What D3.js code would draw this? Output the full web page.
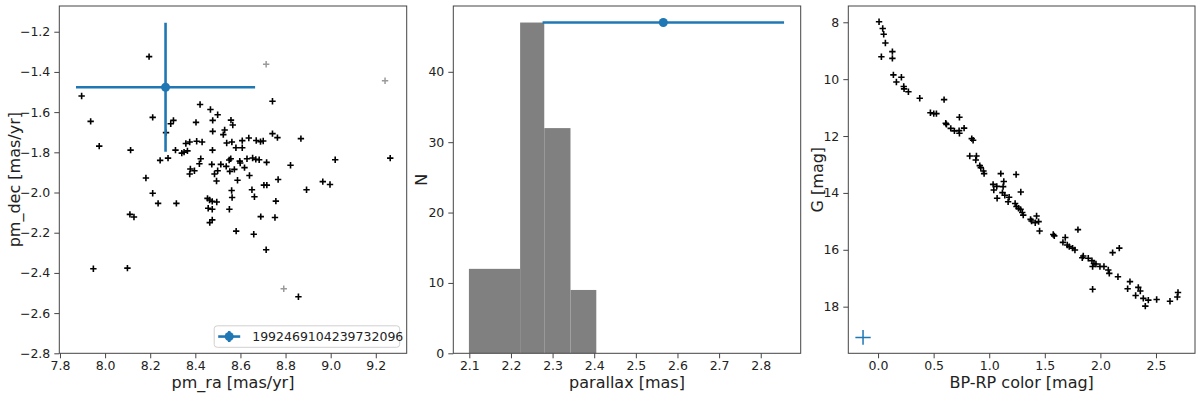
<!DOCTYPE html>
<html>
<head>
<meta charset="utf-8">
<script src="https://cdn.jsdelivr.net/npm/d3@7"></script>
<style>
  body { margin: 0; background: #fff; }
  svg { font-family: "DejaVu Sans", sans-serif; }
</style>
</head>
<body>
<div id="chart"></div>
<script>
// proper motions of the cluster members
const pmRa = [7.896, 7.936, 7.974, 7.948, 8.099, 8.113, 8.110, 8.128, 8.195, 8.181,
  8.211, 8.421, 8.467, 8.499, 8.291, 8.303, 8.403, 8.477, 8.558, 8.566, 8.742, 8.270,
  8.477, 8.530, 8.524, 8.742, 8.764, 8.868, 8.312, 8.340, 8.350, 8.365, 8.358, 8.375,
  8.406, 8.430, 8.476, 8.539, 8.562, 8.580, 8.608, 8.608, 8.637, 8.670, 8.689, 8.701,
  8.244, 8.279, 8.424, 8.418, 8.473, 8.513, 8.537, 8.550, 8.557, 8.597, 8.599, 8.618,
  8.629, 8.654, 8.668, 8.683, 8.716, 8.822, 9.020, 9.264, 8.378, 8.396, 8.375, 8.499,
  8.485, 8.494, 8.553, 8.573, 8.587, 8.640, 8.767, 8.561, 8.651, 8.662, 8.563, 8.704,
  8.717, 8.757, 8.893, 8.965, 8.997, 8.211, 8.235, 8.316, 8.454, 8.463, 8.475, 8.495,
  8.457, 8.475, 8.551, 8.690, 8.753, 8.475, 8.464, 8.581, 8.659, 8.714, 8.857];
const pmDec = [-1.520, -1.646, -1.769, -2.379, -2.376, -1.789, -2.109, -2.122, -1.324, -1.928,
  -1.626, -1.562, -1.587, -1.613, -1.658, -1.641, -1.651, -1.641, -1.640, -1.664, -1.546, -1.702,
  -1.696, -1.689, -1.712, -1.707, -1.727, -1.732, -1.789, -1.804, -1.799, -1.793, -1.756, -1.749,
  -1.745, -1.749, -1.789, -1.754, -1.749, -1.777, -1.742, -1.777, -1.729, -1.741, -1.747, -1.744,
  -1.840, -1.829, -1.832, -1.857, -1.860, -1.860, -1.870, -1.838, -1.832, -1.844, -1.853, -1.876,
  -1.832, -1.828, -1.835, -1.837, -1.850, -1.864, -1.837, -1.829, -1.883, -1.892, -1.908, -1.892,
  -1.908, -1.943, -1.895, -1.885, -1.939, -1.915, -1.935, -1.990, -1.986, -2.021, -2.025, -1.963,
  -1.963, -2.043, -1.986, -1.946, -1.960, -2.004, -2.054, -2.054, -2.029, -2.037, -2.044, -2.047,
  -2.078, -2.083, -2.083, -2.120, -2.124, -2.136, -2.150, -2.192, -2.208, -2.285, -2.519];
// rejected stars (grey)
const pmRaOut = [8.714, 8.792, 9.241];
const pmDecOut = [-1.362, -2.479, -1.444];

// the target star
const sourceId = "1992469104239732096";
const starPm = [8.268, -1.476];
const starPmErr = [0.397, 0.321];
const starPlx = 2.566;
const starPlxErr = 0.29;

// parallax histogram
const binEdges = [2.099, 2.222, 2.280, 2.343, 2.405];
const binCounts = [12, 47, 32, 9];

// colour-magnitude diagram
const bpRp = [0.009, 0.042, 0.051, 0.066, 0.030, 0.129, 0.129, 0.138, 0.165, 0.210, 0.231, 0.234,
  0.273, 0.375, 0.594, 0.471, 0.501, 0.525, 0.609, 0.615, 0.654, 0.687, 0.729, 0.732, 0.732,
  0.774, 0.843, 0.855, 0.825, 0.885, 0.879, 0.915, 0.924, 0.948, 0.954, 1.035, 1.041, 1.068,
  1.071, 1.104, 1.131, 1.125, 1.119, 1.140, 1.179, 1.170, 1.242, 1.284, 1.233, 1.245, 1.264,
  1.282, 1.297, 1.306, 1.372, 1.381, 1.426, 1.414, 1.444, 1.453, 1.576, 1.585, 1.684, 1.663,
  1.702, 1.720, 1.750, 1.771, 1.798, 1.846, 1.837, 1.891, 1.924, 1.942, 1.930, 1.960, 1.996,
  2.032, 2.071, 2.080, 2.110, 2.170, 2.158, 1.930, 2.245, 2.266, 2.317, 2.341, 2.359, 2.386,
  2.404, 2.431, 2.506, 2.626, 2.692, 2.698];
const gMag = [7.98, 8.22, 8.42, 8.73, 9.21, 9.03, 9.27, 9.85, 10.10, 9.93, 10.26, 10.34,
  10.44, 10.67, 10.72, 11.18, 11.21, 11.21, 11.55, 11.59, 11.73, 11.82, 11.81, 11.90, 11.34,
  11.72, 12.09, 12.15, 12.70, 12.70, 12.84, 13.04, 13.11, 13.23, 13.32, 13.70, 13.90, 13.77,
  14.19, 13.32, 13.60, 13.78, 13.99, 14.08, 14.15, 14.31, 13.35, 13.97, 14.37, 14.48, 14.54,
  14.58, 14.69, 14.78, 14.93, 14.99, 14.81, 15.05, 15.01, 15.34, 15.46, 15.51, 15.57, 15.74,
  15.83, 15.89, 15.94, 16.01, 15.29, 16.22, 16.28, 16.30, 16.38, 16.48, 16.59, 16.50, 16.59,
  16.59, 16.71, 16.83, 16.10, 15.94, 16.95, 17.39, 17.37, 17.12, 17.61, 17.32, 17.45, 17.71,
  17.98, 17.77, 17.75, 17.81, 17.66, 17.50];
// typical uncertainty cross
const cmdErrPos = [-0.135, 19.08];
const cmdErr = [0.069, 0.26];

// tick values
const pmRaTicks = [7.8, 8.0, 8.2, 8.4, 8.6, 8.8, 9.0, 9.2];
const pmDecTicks = [-2.8, -2.6, -2.4, -2.2, -2.0, -1.8, -1.6, -1.4, -1.2];
const plxTicks = [2.1, 2.2, 2.3, 2.4, 2.5, 2.6, 2.7, 2.8];
const nTicks = [0, 10, 20, 30, 40];
const colorTicks = [0.0, 0.5, 1.0, 1.5, 2.0, 2.5];
const gTicks = [8, 10, 12, 14, 16, 18];

const blue = "#1f77b4";
const spine = "#444";
const plotTop = 6, plotBottom = 353.3;

const svg = d3.select("#chart").append("svg")
  .attr("width", 1200).attr("height", 395);

const plus = "M-3.2,0H3.2M0,-3.2V3.2";

const panel = (id, left, right, xDomain, yDomain, xTicks, yTicks, xFmt, yFmt, xLabel, yLabel, yLabelX) => {
  const x = d3.scaleLinear().domain(xDomain).range([left, right]);
  const y = d3.scaleLinear().domain(yDomain).range([plotBottom, plotTop]);
  const g = svg.append("g");

  svg.append("clipPath").attr("id", id)
    .append("rect").attr("x", left).attr("y", plotTop)
    .attr("width", right - left).attr("height", plotBottom - plotTop);

  const xAxis = g.append("g")
    .attr("transform", "translate(0," + plotBottom + ")")
    .call(d3.axisBottom(x).tickValues(xTicks).tickFormat(d3.format(xFmt))
      .tickSize(5).tickPadding(3).tickSizeOuter(0));
  const yAxis = g.append("g")
    .attr("transform", "translate(" + left + ",0)")
    .call(d3.axisLeft(y).tickValues(yTicks).tickFormat(d3.format(yFmt))
      .tickSize(5).tickPadding(4).tickSizeOuter(0));
  [xAxis, yAxis].forEach((a) => {
    a.select(".domain").remove();
    a.attr("font-size", 12.5).attr("font-family", "DejaVu Sans, sans-serif");
    a.selectAll("line").attr("stroke", spine);
    a.selectAll("text").attr("fill", "#222");
  });

  g.append("text")
    .attr("x", (left + right) / 2).attr("y", 387.5)
    .attr("text-anchor", "middle").attr("font-size", 16).attr("fill", "#222")
    .text(xLabel);
  g.append("text")
    .attr("transform", "translate(" + yLabelX + "," + (plotTop + plotBottom) / 2 + ") rotate(-90)")
    .attr("dy", "0.35em")
    .attr("text-anchor", "middle").attr("font-size", 16).attr("fill", "#222")
    .text(yLabel);

  const plot = g.append("g").attr("clip-path", "url(#" + id + ")");
  return { g, plot, x, y, left, right };
};

const errorbar = (sel, cx, cy, xLo, xHi, yLo, yHi, color, width) => {
  sel.append("line").attr("x1", xLo).attr("x2", xHi).attr("y1", cy).attr("y2", cy)
    .attr("stroke", color).attr("stroke-width", width);
  sel.append("line").attr("x1", cx).attr("x2", cx).attr("y1", yLo).attr("y2", yHi)
    .attr("stroke", color).attr("stroke-width", width);
};

const frame = (p) => {
  p.g.append("rect")
    .attr("x", p.left).attr("y", plotTop)
    .attr("width", p.right - p.left).attr("height", plotBottom - plotTop)
    .attr("fill", "none").attr("stroke", spine).attr("stroke-width", 1);
};

// ---- proper motion panel
const pA = panel("clipA", 59.3, 406.7, [7.797, 9.337], [-2.8, -1.072],
  pmRaTicks, pmDecTicks, ".1f", ".1f", "pm_ra [mas/yr]", "pm_dec [mas/yr]", 14.5);

pA.plot.selectAll(".out").data(d3.range(pmRaOut.length)).join("path")
  .attr("transform", (i) => "translate(" + pA.x(pmRaOut[i]) + "," + pA.y(pmDecOut[i]) + ")")
  .attr("d", plus).attr("stroke", "#9a9a9a").attr("stroke-width", 1.5);
pA.plot.selectAll(".member").data(d3.range(pmRa.length)).join("path")
  .attr("transform", (i) => "translate(" + pA.x(pmRa[i]) + "," + pA.y(pmDec[i]) + ")")
  .attr("d", plus).attr("stroke", "#000").attr("stroke-width", 1.6);

errorbar(pA.plot, pA.x(starPm[0]), pA.y(starPm[1]),
  pA.x(starPm[0] - starPmErr[0]), pA.x(starPm[0] + starPmErr[0]),
  pA.y(starPm[1] - starPmErr[1]), pA.y(starPm[1] + starPmErr[1]), blue, 2.6);
pA.plot.append("circle").attr("cx", pA.x(starPm[0])).attr("cy", pA.y(starPm[1]))
  .attr("r", 4.5).attr("fill", blue);

// legend, lower right
const lgW = 185.5, lgH = 21.5;
const lgX = pA.right - 7 - lgW, lgY = plotBottom - 6 - lgH;
const lg = pA.g.append("g");
lg.append("rect").attr("x", lgX).attr("y", lgY).attr("width", lgW).attr("height", lgH)
  .attr("rx", 3).attr("fill", "#fff").attr("fill-opacity", 0.8)
  .attr("stroke", "#d0d0d0");
const hx = lgX + 15, hy = lgY + lgH / 2;
errorbar(lg, hx, hy, hx - 11, hx + 11, hy - 5.5, hy + 5.5, blue, 2.6);
lg.append("circle").attr("cx", hx).attr("cy", hy).attr("r", 4.5).attr("fill", blue);
lg.append("text").attr("x", lgX + 38).attr("y", hy).attr("dy", "0.35em")
  .attr("font-size", 12.5).attr("fill", "#222").text(sourceId);

frame(pA);

// ---- parallax histogram
const pB = panel("clipB", 453.3, 800.7, [2.0615, 2.896], [0, 49.35],
  plxTicks, nTicks, ".1f", "d", "parallax [mas]", "N", 421.7);

pB.plot.selectAll(".bar").data(binCounts).join("rect")
  .attr("x", (d, i) => pB.x(binEdges[i]))
  .attr("width", (d, i) => pB.x(binEdges[i + 1]) - pB.x(binEdges[i]))
  .attr("y", (d) => pB.y(d))
  .attr("height", (d) => pB.y(0) - pB.y(d))
  .attr("fill", "#808080");

const nMax = d3.max(binCounts);
errorbar(pB.plot, pB.x(starPlx), pB.y(nMax),
  pB.x(starPlx - starPlxErr), pB.x(starPlx + starPlxErr),
  pB.y(nMax), pB.y(nMax), blue, 2.6);
pB.plot.append("circle").attr("cx", pB.x(starPlx)).attr("cy", pB.y(nMax))
  .attr("r", 4.5).attr("fill", blue);

frame(pB);

// ---- colour-magnitude diagram
const pC = panel("clipC", 848.3, 1195, [-0.2676, 2.851], [19.64, 7.427],
  colorTicks, gTicks, ".1f", "d", "BP-RP color [mag]", "G [mag]", 817);

pC.plot.selectAll(".star").data(d3.range(bpRp.length)).join("path")
  .attr("transform", (i) => "translate(" + pC.x(bpRp[i]) + "," + pC.y(gMag[i]) + ")")
  .attr("d", plus).attr("stroke", "#000").attr("stroke-width", 1.6);

errorbar(pC.plot, pC.x(cmdErrPos[0]), pC.y(cmdErrPos[1]),
  pC.x(cmdErrPos[0] - cmdErr[0]), pC.x(cmdErrPos[0] + cmdErr[0]),
  pC.y(cmdErrPos[1] - cmdErr[1]), pC.y(cmdErrPos[1] + cmdErr[1]), blue, 1.5);

frame(pC);
</script>
</body>
</html>
